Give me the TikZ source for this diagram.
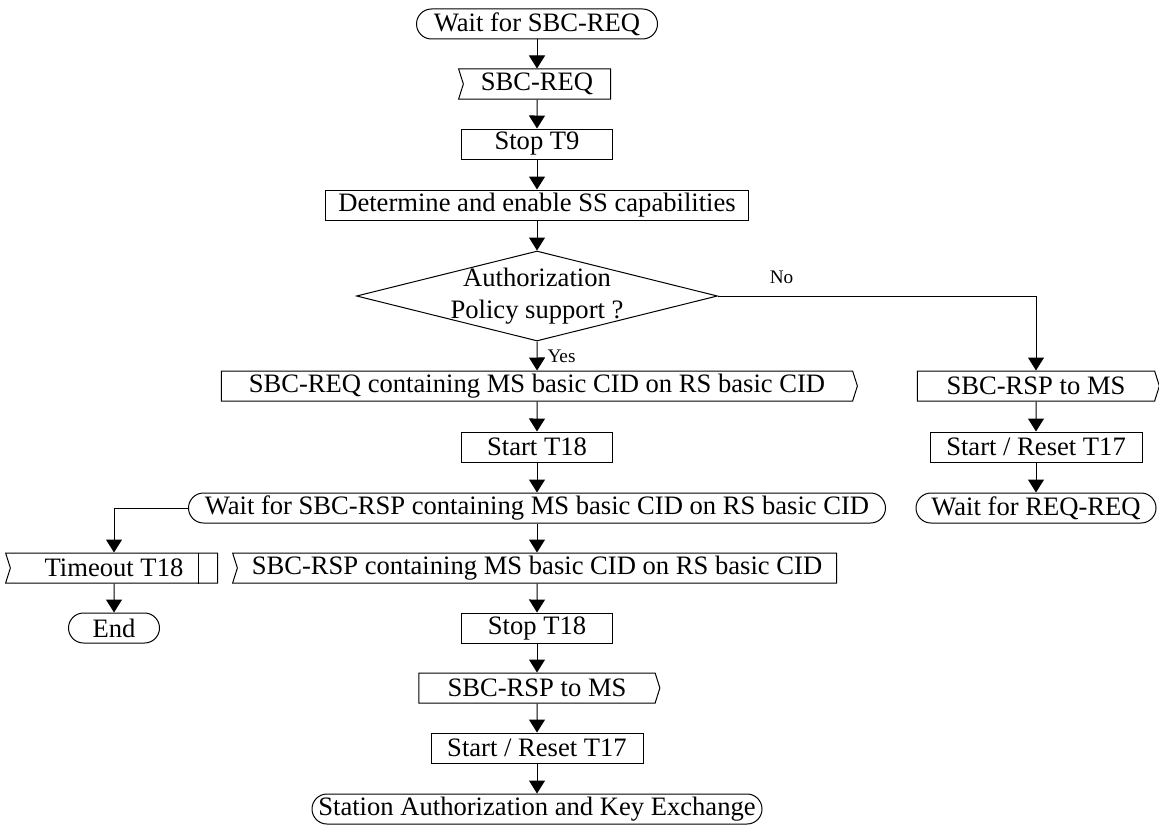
\documentclass[tikz,border=0pt]{standalone}
\usepackage{fontspec}
\setmainfont{Liberation Serif}
\usepackage{tikz}
\usetikzlibrary{arrows.meta,shapes.geometric,shapes.symbols,calc}
\tikzset{
  chart/.style={x=0.5pt, y=-0.5pt, line width=0.5pt},
  flowtext/.style={font=\fontsize{13.3}{16}\selectfont, inner sep=1pt, minimum height=15pt},
  procbox/.style={flowtext, draw, rectangle},
  termbox/.style={flowtext, draw, rectangle, rounded corners=7.5pt},
  sendbox/.style={flowtext, draw, signal, signal to=east, signal from=nowhere, signal pointer angle=145},
  recvbox/.style={flowtext, draw, signal, signal to=nowhere, signal from=west, signal pointer angle=145},
  decbox/.style={draw, diamond, inner sep=0pt, minimum width=180.5pt, minimum height=45pt},
  flow/.style={-{Triangle[length=6.5pt,width=8pt]}},
  lbl/.style={font=\fontsize{9.6}{11}\selectfont, inner sep=1pt},
}

\begin{document}
\begin{tikzpicture}[chart]
  \useasboundingbox (0,0) rectangle (1159,824);
  % main column
  \node[termbox, minimum width=120.5pt] (wreq) at (537,24) {Wait for SBC-REQ};
  \node[recvbox, minimum width=76pt] (req) at (537,84) {SBC-REQ};
  \node[procbox, minimum width=75.5pt] (stopnine) at (537,144) {Stop T9};
  \node[procbox, minimum width=211.5pt] (determ) at (537,205) {Determine and enable SS capabilities};
  \node[decbox] (dec) at (537,296) {};
  \node[flowtext, align=center] at (dec.center) {Authorization\\Policy support ?};
  \node[sendbox, minimum width=318pt] (sreq) at (537,386) {SBC-REQ containing MS basic CID on RS basic CID};
  \node[procbox, minimum width=75.5pt] (startt) at (537,447) {Start T18};
  \node[termbox, minimum width=348.5pt] (wrsp) at (537,508) {Wait for SBC-RSP containing MS basic CID on RS basic CID};
  \node[recvbox, minimum width=302pt] (rrsp) at (537,568) {SBC-RSP containing MS basic CID on RS basic CID};
  \node[procbox, minimum width=75.5pt] (stopte) at (537,628) {Stop T18};
  \node[sendbox, minimum width=120.5pt] (srspm) at (537,688) {SBC-RSP to MS};
  \node[procbox, minimum width=106pt] (rst) at (537,748) {Start / Reset T17};
  \node[termbox, minimum width=225pt] (station) at (537,809) {Station Authorization and Key Exchange};
  % timeout branch
  \node[recvbox, minimum width=106pt] (tmo) at (114,568) {Timeout T18};
  \draw ($(tmo.north)+(84,0)$) -- ($(tmo.south)+(84,0)$);
  \node[termbox, minimum width=45.5pt] (endn) at (114,628) {End};
  % no branch
  \node[sendbox, minimum width=121pt] (rsptwo) at (1036,386) {SBC-RSP to MS};
  \node[procbox, minimum width=106pt] (rsttwo) at (1036,447) {Start / Reset T17};
  \node[termbox, minimum width=120pt] (wreqtwo) at (1036,508) {Wait for REQ-REQ};
  % connectors
  \draw[flow] (wreq) -- (req);
  \draw[flow] (req) -- (stopnine);
  \draw[flow] (stopnine) -- (determ);
  \draw[flow] (determ) -- (dec.north);
  \draw[flow] (dec.south) -- node[lbl, right=4pt] {Yes} (sreq);
  \draw[flow] (sreq) -- (startt);
  \draw[flow] (startt) -- (wrsp);
  \draw[flow] (wrsp) -- (rrsp);
  \draw[flow] (wrsp.west) -| (tmo.north);
  \draw[flow] (tmo) -- (endn);
  \draw[flow] (rrsp) -- (stopte);
  \draw[flow] (stopte) -- (srspm);
  \draw[flow] (srspm) -- (rst);
  \draw[flow] (rst) -- (station);
  \draw[flow] (dec.east) -- node[lbl, above=5pt, pos=0.2] {No} (dec.east -| rsptwo.north) -- (rsptwo.north);
  \draw[flow] (rsptwo) -- (rsttwo);
  \draw[flow] (rsttwo) -- (wreqtwo);
\end{tikzpicture}
\end{document}
